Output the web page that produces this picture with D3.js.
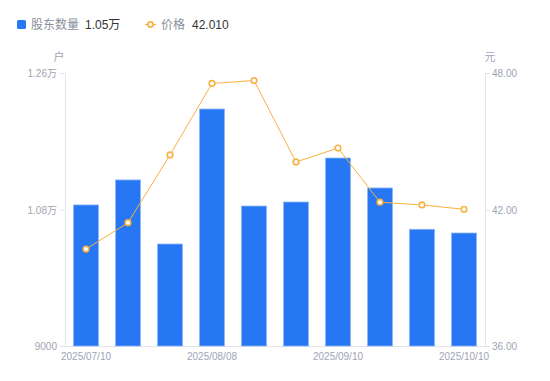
<!DOCTYPE html>
<html><head><meta charset="utf-8">
<script src="https://cdn.jsdelivr.net/npm/d3@7"></script>
<style>
body{margin:0;background:#fff;font-family:"Liberation Sans","Noto Sans CJK SC",sans-serif;}
svg{display:block}
</style></head>
<body>
<svg id="c" width="550" height="381"></svg>
<script>
const categories = ["2025/07/10","2025/07/18","2025/07/31","2025/08/08","2025/08/20","2025/08/29","2025/09/10","2025/09/19","2025/09/30","2025/10/10"];
const holders = [10860,11190,10345,12125,10846,10899,11479,11084,10539,10490];
const prices = [40.26,41.42,44.40,47.54,47.67,44.09,44.70,42.32,42.20,42.01];
const leftTicks = [9000,10800,12600];
const leftTickLabels = ["9000","1.08万","1.26万"];
const rightTicks = [36,42,48];
const shownLabels = ["2025/07/10","2025/08/08","2025/09/10","2025/10/10"];

const FONT = "'Liberation Sans','Noto Sans CJK SC',sans-serif";
const svg = d3.select("#c").style("font-family",FONT);
const L=65, R=485, T=73, B=346;
const xc = d3.scaleBand().domain(categories).range([L,R]);
const yL = d3.scaleLinear().domain([9000,12600]).range([B,T]);
const yR = d3.scaleLinear().domain([36,48]).range([B,T]);
const grey="#a0a4b4", axisC="#e3e4e8";

// axes
const gl = svg.append("g").attr("transform",`translate(${L},0)`)
  .call(d3.axisLeft(yL).tickValues(leftTicks).tickFormat((d,i)=>leftTickLabels[i]).tickSize(5).tickPadding(3));
const gr = svg.append("g").attr("transform",`translate(${R},0)`)
  .call(d3.axisRight(yR).tickValues(rightTicks).tickFormat(d3.format(".2f")).tickSize(5).tickPadding(2));
const gb = svg.append("g").attr("transform",`translate(0,${B})`)
  .call(d3.axisBottom(xc).tickValues(shownLabels).tickSize(0).tickPadding(7));
[gl,gr,gb].forEach(g=>{
  g.select(".domain").attr("stroke",axisC);
  g.selectAll(".tick line").attr("stroke",axisC);
  g.selectAll("text").attr("fill",grey).style("font-size","10px").style("font-family",FONT);
});
gb.select(".domain").attr("d",`M${L},0.5H${R}`);
gl.selectAll("text").attr("dy","0.35em");
gr.selectAll("text").attr("dy","0.35em");

// units
svg.append("text").attr("x",59).attr("y",61).attr("text-anchor","middle").attr("fill",grey).style("font-size","11px").text("户");
svg.append("text").attr("x",490).attr("y",61).attr("text-anchor","middle").attr("fill",grey).style("font-size","11px").text("元");

// bars
svg.append("g").selectAll("rect").data(categories).join("rect")
  .attr("x",d=>xc(d)+xc.bandwidth()/2-12.5)
  .attr("width",25)
  .attr("y",(d,i)=>yL(holders[i]))
  .attr("height",(d,i)=>B-yL(holders[i]))
  .attr("fill","#2776f3").attr("stroke","#8db8f8").attr("stroke-width",0.8);

// line
const cx = d=>xc(d)+xc.bandwidth()/2;
svg.append("path").datum(categories)
  .attr("d",d3.line().x(cx).y((d,i)=>yR(prices[i])))
  .attr("fill","none").attr("stroke","#f8b141").attr("stroke-width",1);
svg.append("g").selectAll("circle").data(categories).join("circle")
  .attr("cx",cx).attr("cy",(d,i)=>yR(prices[i])).attr("r",2.8)
  .attr("fill","#fff").attr("stroke","#f8b141").attr("stroke-width",1.6);

// legend
const lg = svg.append("g").style("font-size","12px");
lg.append("rect").attr("x",17).attr("y",20).attr("width",9).attr("height",9).attr("rx",1.5).attr("fill","#2776f3");
lg.append("text").attr("x",31).attr("y",29).attr("fill","#8a8e9c").text("股东数量");
lg.append("text").attr("x",85).attr("y",29).attr("fill","#333").text("1.05万");
lg.append("line").attr("x1",145).attr("x2",156).attr("y1",24.5).attr("y2",24.5).attr("stroke","#f8b141").attr("stroke-width",1.2);
lg.append("circle").attr("cx",150.5).attr("cy",24.5).attr("r",2.6).attr("fill","#fff").attr("stroke","#f8b141").attr("stroke-width",1.6);
lg.append("text").attr("x",161).attr("y",29).attr("fill","#8a8e9c").text("价格");
lg.append("text").attr("x",192).attr("y",29).attr("fill","#333").text("42.010");
</script>
</body></html>
